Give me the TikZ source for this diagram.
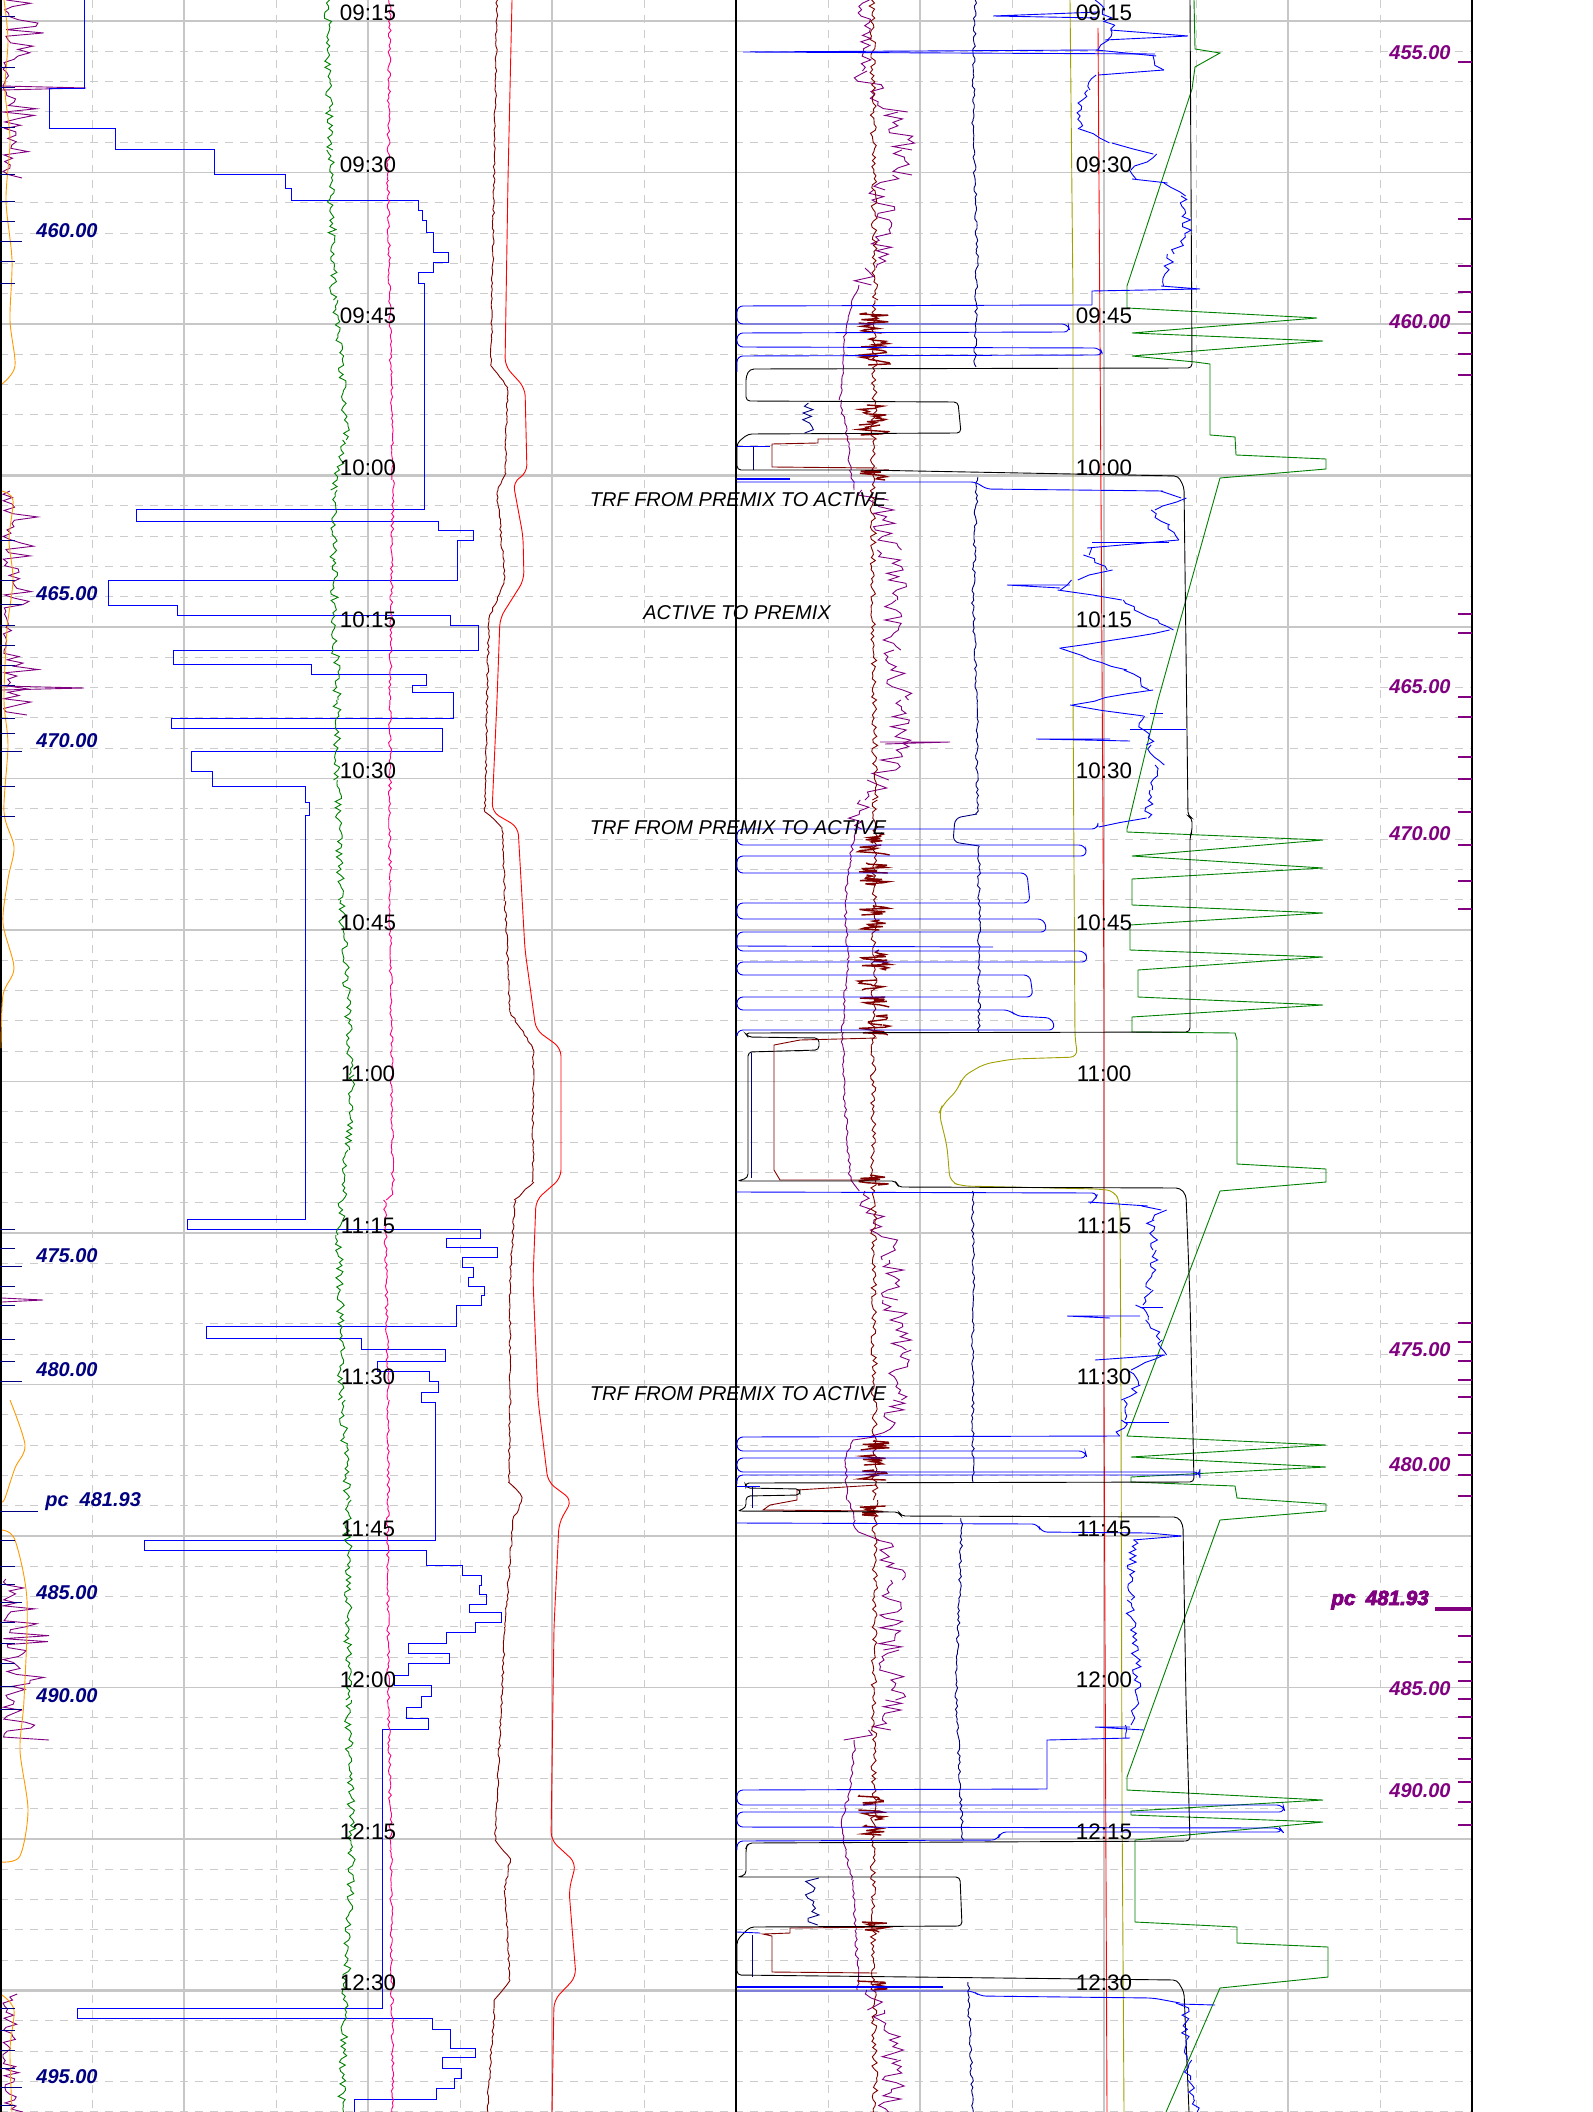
\documentclass[tikz,border=0pt]{standalone}
\usepackage{fontspec}
\setmainfont{Liberation Sans}
\newfontfamily\pcfont[FakeBold=4]{Liberation Sans}
\usepackage{tikz}
\definecolor{logblue}{RGB}{0,0,255}
\definecolor{lognavy}{RGB}{0,0,128}
\definecolor{logpurple}{RGB}{128,0,128}
\definecolor{logmaroon}{RGB}{128,0,0}
\definecolor{logred}{RGB}{255,0,0}
\definecolor{logpink}{RGB}{255,0,128}
\definecolor{loggreen}{RGB}{0,128,0}
\definecolor{logolive}{RGB}{160,160,0}
\definecolor{logorange}{RGB}{255,153,0}
\tikzset{
  gridmaj/.style={draw=black!22, line width=0.7pt},
  gridmin/.style={draw=black!20, line width=0.5pt, dash pattern=on 4pt off 3.5pt},
  border/.style={draw=black, line width=0.8pt},
  curve/.style={line width=0.45pt},
  timelbl/.style={anchor=base, inner sep=0pt, font=\fontsize{11.2}{13}\selectfont},
  depthL/.style={text=lognavy, inner sep=0pt, font=\fontsize{10}{12}\selectfont\bfseries\itshape},
  depthR/.style={text=logpurple, inner sep=0pt, font=\fontsize{10}{12}\selectfont\bfseries\itshape},
  remark/.style={inner sep=0pt, font=\fontsize{10}{12}\selectfont\itshape}
}
\newcommand{\burst}[2]{\draw[logmaroon, line width=0.7pt] plot[variable=\s, domain=-5:5, samples=10] ({874+#2*(rnd-0.5)}, {#1+\s});}
\newcommand{\jitter}[5][]{%
  \foreach \xb/\yb [remember=\xb as \xa (initially #3), remember=\yb as \ya (initially #4)] in {#5} {%
    \pgfmathtruncatemacro\nsm{max(2,abs(\yb-\ya)/3)}%
    \draw[#1] plot[variable=\s, domain=\ya:\yb, samples=\nsm] ({\xa+(\xb-\xa)*(\s-\ya)/(\yb-\ya)+#2*(rnd-0.5)}, \s);%
  }%
}

\begin{document}
\begin{tikzpicture}[x=0.5pt, y=-0.5pt]
  \pgfmathsetseed{7}
  \useasboundingbox (0,0) rectangle (1592,2112);
  \fill[white] (0,0) rectangle (1592,2112);

  \foreach \j in {0,...,69} \draw[gridmin] (0,{21+30.3*\j}) -- (1472,{21+30.3*\j});
  \foreach \i in {1,3,...,15} \draw[gridmin] ({92*\i},0) -- ({92*\i},2112);
  \foreach \i in {2,4,6,10,12,14} \draw[gridmaj] ({92*\i},0) -- ({92*\i},2112);
  \foreach \k in {0,...,13} \draw[gridmaj] (0,{21+151.5*\k}) -- (1472,{21+151.5*\k});
  \foreach \k in {3,8,13} \draw[gridmaj, line width=1.3pt] (0,{21+151.5*\k}) -- (1472,{21+151.5*\k});
  \draw[border] (1,0) -- (1,2112);
  \draw[border] (736,0) -- (736,2112);
  \draw[border] (1472,0) -- (1472,2112);

  % left track
  \draw[logpurple, curve] plot[variable=\s, domain=0:178, samples=55] ({3+45*rnd*rnd}, \s);
  \draw[logpurple, curve] plot[variable=\s, domain=491:715, samples=70] ({3+40*rnd*rnd}, \s);
  \draw[logpurple, curve] plot[variable=\s, domain=1579:1740, samples=55] ({3+55*rnd*rnd}, \s);
  \draw[logpurple, curve] plot[variable=\s, domain=1994:2112, samples=40] ({3+25*rnd*rnd}, \s);
  \draw[logpurple, curve] (2,86) -- (86,88) -- (2,90);
  \draw[logpurple, curve] (2,686) -- (84,688) -- (2,690);
  \draw[logpurple, curve] (2,1298) -- (43,1300) -- (2,1302);

  \draw[logorange, curve] plot[smooth] coordinates {(4,0) (8,40) (5,90) (10,140) (6,200) (12,260) (10,320) (15,366) (2,384)};
  \draw[logorange, curve] plot[smooth] coordinates {(2,491) (13,500) (9,540) (13,580) (7,630) (4,700) (8,745) (4,812) (14,847) (8,879) (3,923) (14,968) (3,995) (1,1048)};
  \draw[logorange, curve] plot[smooth] coordinates {(10,1400) (25,1445) (15,1468) (5,1498) (2,1502)};
  \draw[logorange, curve] plot[smooth] coordinates {(2,1530) (15,1540) (27,1600) (24,1700) (20,1750) (28,1810) (20,1856) (2,1862)};
  \draw[logorange, curve] plot[smooth] coordinates {(2,1995) (14,2010) (10,2050) (12,2112)};

  \foreach \y in {16,67,87,127,174,201,221,261,283,540,580,625,645,665,685,718,733,786,816,1229,1248,1286,1305,1339,1361,1540,1566,1584,1622,1643,1663,1686,2008,2030,2050,2068,2105}
    \draw[lognavy, curve] (0,\y) -- (15,\y);
  \foreach \y in {241,604,751,1266,1381,1602,1709,2087}
    \draw[lognavy, curve] (0,\y) -- (22,\y);
  \draw[lognavy, curve] (0,1511) -- (38,1511);

  \draw[logblue, curve] (84,0) |- (49,88) |- (115,128) |- (214,149) |- (285,174) |- (291,188)
    |- (418,200) |- (422,210) |- (426,220) |- (433,232) |- (448,252) |- (433,262) |- (418,272)
    |- (424,283) |- (136,509) |- (438,521) |- (473,530) |- (457,540) |- (108,580) |- (177,605)
    |- (450,615) |- (478,625) |- (173,650) |- (311,664) |- (426,674) |- (412,685) |- (453,692)
    |- (171,718) |- (442,728) |- (191,751) |- (212,771) |- (305,786) |- (309,802) |- (305,815)
    |- (187,1219) |- (480,1229) |- (446,1238) |- (497,1247) |- (462,1257) |- (473,1267)
    |- (468,1277) |- (484,1286) |- (481,1295) |- (456,1305) |- (206,1326) |- (361,1338)
    |- (445,1349) |- (377,1361) |- (429,1371) |- (438,1381) |- (421,1392) |- (435,1402)
    |- (144,1540) |- (426,1550) |- (462,1565) |- (481,1575) |- (479,1585) |- (486,1594)
    |- (469,1604) |- (501,1612) |- (475,1622) |- (446,1632) |- (408,1643) |- (449,1653)
    |- (408,1663) |- (394,1675) |- (431,1685) |- (421,1696) |- (406,1707) |- (428,1718)
    |- (382,1729) |- (77,2008) |- (432,2018) |- (450,2029) |- (475,2048) |- (442,2057)
    |- (461,2068) |- (454,2078) |- (436,2088) |- (354,2099) -- (354,2112);

  \jitter[loggreen, curve]{8}{328}{0}{330/150, 334/300, 344/390, 346/440, 334/490, 333/560, 337/700,
    337/780, 341/900, 352/1075, 347/1150, 339/1235, 342/1400, 348/1500, 348/1700, 352/1850, 346/1990, 341/2112}
  \jitter[logpink, curve]{3}{390}{0}{388/180, 390/320, 393/480, 390/700, 390/880, 393/1195, 385/1200,
    388/1400, 388/1670, 391/1850, 393/2112}
  \jitter[logmaroon, curve]{2}{497}{0}{494/179, 491/366, 508/388, 505/473, 497/491, 505/580, 489/618,
    487/700, 485/812, 502/827, 505/901, 510/1012, 533/1048, 533/1182, 515/1200, 510/1280, 510/1400,
    509/1482, 523/1498, 513/1520, 505/1627, 495/1840, 510/1859, 505/1890, 510/1981, 495/2000, 487/2112}
  \draw[logred, curve, rounded corners=4pt] (512,0) -- (508,179) -- (505,366) -- (525,388) -- (527,473)
    -- (513,482) -- (523,536) -- (524,580) -- (500,618) -- (497,700) -- (492,812) -- (518,827)
    -- (525,950) -- (536,1030) -- (561,1048) -- (561,1178) -- (536,1200) -- (533,1280) -- (538,1400)
    -- (548,1482) -- (572,1500) -- (559,1523) -- (554,1627) -- (551,1840) -- (576,1863) -- (569,1890)
    -- (576,1977) -- (554,2000) -- (552,2112);

  % right track
  \draw[logred, curve] (1098,28) -- (1101,500) -- (1104,1000) -- (1104,1400) -- (1107,2112);
  \draw[logolive, curve, rounded corners=4pt] (1070,0) -- (1073,300) -- (1073,700) -- (1075,1039)
    -- (1078,1057) -- (1013,1059) -- (984,1064) -- (962,1077) -- (959,1088) -- (942,1106) -- (939,1113)
    -- (947,1146) -- (950,1182) -- (962,1186) -- (1098,1189) -- (1115,1191) -- (1120,1204)
    -- (1121,1400) -- (1122,1800) -- (1124,2112);

  \draw[loggreen, curve] (1194,0) -- (1195,49) -- (1220,53) -- (1195,67) -- (1192,89) -- (1127,286)
    -- (1127,308) -- (1317,318) -- (1132,333) -- (1323,341) -- (1132,356) -- (1195,362) -- (1210,364)
    -- (1210,435) -- (1235,437) -- (1236,455) -- (1326,459) -- (1326,469) -- (1220,478) -- (1158,700)
    -- (1127,829) -- (1127,832) -- (1323,840) -- (1132,856) -- (1323,868) -- (1132,879) -- (1132,905)
    -- (1323,913) -- (1130,925) -- (1130,950) -- (1323,957) -- (1138,970) -- (1138,997) -- (1323,1005)
    -- (1132,1017) -- (1132,1032) -- (1235,1033) -- (1237,1040) -- (1237,1164) -- (1326,1169)
    -- (1326,1182) -- (1220,1191) -- (1127,1436) -- (1326,1445) -- (1131,1457) -- (1326,1467)
    -- (1131,1477) -- (1131,1482) -- (1235,1486) -- (1237,1498) -- (1326,1504) -- (1326,1511)
    -- (1220,1520) -- (1127,1777) -- (1127,1790) -- (1323,1800) -- (1131,1811) -- (1131,1815)
    -- (1323,1822) -- (1135,1840) -- (1135,1922) -- (1237,1927) -- (1237,1943) -- (1328,1947)
    -- (1328,1977) -- (1220,1988) -- (1166,2112);

  \jitter[logpurple, curve]{26}{872}{0}{866/45, 860/71, 895/112, 905/150, 905/175, 880/190, 885/230, 878/268, 860/285}
  \jitter[logpurple, curve]{3}{860}{285}{852/300, 845/330, 843/370, 840/400, 848/440, 850/470, 855/490}
  \jitter[logpurple, curve]{26}{855}{490}{880/500, 890/550, 895/600, 890/650, 900/700, 905/740, 880/780, 865/800, 855/829}
  \draw[logpurple, curve] (880,742) -- (950,742) -- (885,744);
  \jitter[logpurple, curve]{3}{855}{829}{850/860, 845/900, 848/960, 842/1032, 845/1100, 850/1180, 860/1191}
  \jitter[logpurple, curve]{26}{860}{1191}{880/1220, 890/1260, 895/1300, 900/1350, 895/1400, 880/1436}
  \jitter[logpurple, curve]{3}{880}{1436}{853/1440, 845/1460, 848/1500, 855/1520}
  \jitter[logpurple, curve]{26}{855}{1520}{880/1540, 895/1580, 890/1650, 895/1700, 880/1730, 855/1740}
  \jitter[logpurple, curve]{3}{855}{1740}{850/1790, 842/1820, 845/1850, 852/1880, 856/1930, 858/1990}
  \jitter[logpurple, curve]{26}{858}{1990}{880/2010, 895/2060, 890/2112}

  \jitter[logmaroon, curve]{6}{872}{0}{875/300, 873/500, 875/800, 873/1100, 875/1500, 873/1900, 875/2112}
  \draw[logmaroon, curve] (877,439) -- (818,439) -- (818,443) -- (772,444) -- (772,467) -- (877,468);
  \draw[logmaroon, curve] (877,1038) -- (800,1040) -- (774,1045) -- (774,1170) -- (780,1180) -- (877,1180);
  \draw[logmaroon, curve] (877,1485) -- (797,1490) -- (797,1500) -- (770,1505) -- (763,1510) -- (877,1511);
  \draw[logmaroon, curve] (893,1927) -- (790,1928) -- (790,1933) -- (763,1934) -- (772,1936) -- (772,1972) -- (877,1973);
  \foreach \b in {318,328,343,352,360,410,420,430,475,838,850,868,880,910,925,955,965,985,1002,1020,1030,1180,1445,1460,1475,1511,1800,1815,1830,1927,1985}
    {\burst{\b}{32}}

  \jitter[lognavy, curve]{3}{975}{0}{973/120, 977/250, 975/367}
  \jitter[lognavy, curve]{14}{808}{403}{808/433}
  \draw[lognavy, curve] (753,447) -- (753,470);
  \jitter[lognavy, curve]{3}{977}{477}{973/600, 977/700, 977/814}
  \draw[lognavy, curve, rounded corners=3pt] (977,814) -- (955,818) -- (953,842) -- (979,846);
  \jitter[lognavy, curve]{3}{979}{846}{979/1032}
  \draw[lognavy, curve] (751,1053) -- (751,1178);
  \jitter[lognavy, curve]{3}{973}{1191}{973/1482}
  \draw[lognavy, curve] (752,1486) -- (752,1508);
  \jitter[lognavy, curve]{3}{962}{1518}{956/1700, 963/1840}
  \jitter[lognavy, curve]{14}{812}{1878}{812/1925}
  \draw[lognavy, curve] (752,1935) -- (752,1977);
  \jitter[lognavy, curve]{3}{968}{1982}{973/2112}

  \draw[black, curve, rounded corners=2pt] (1190,0) -- (1192,368) -- (750,369) -- (746,376) -- (746,401)
    -- (958,402) -- (961,433) -- (748,434) -- (737,443) -- (737,470) -- (863,470) -- (1178,476)
    -- (1184,487) -- (1188,816) -- (1192,818) -- (1192,832) -- (1190,836) -- (1190,1032) -- (745,1033)
    -- (748,1037) -- (819,1038) -- (819,1050) -- (748,1052) -- (748,1178) -- (737,1181) -- (896,1181)
    -- (898,1187) -- (1180,1188) -- (1186,1195) -- (1190,1300) -- (1194,1482) -- (745,1483) -- (746,1488)
    -- (800,1489) -- (800,1495) -- (746,1496) -- (746,1508) -- (737,1511) -- (899,1512) -- (901,1516)
    -- (1178,1517) -- (1183,1525) -- (1186,1700) -- (1190,1841) -- (748,1843) -- (746,1848) -- (746,1875)
    -- (737,1877) -- (960,1877) -- (962,1926) -- (750,1927) -- (737,1940) -- (737,1975) -- (1177,1980)
    -- (1184,1992) -- (1189,2112);

  \jitter[logblue, curve]{10}{1100}{0}{1110/25, 1105/40, 1098/50, 1155/56, 1160/70, 1100/75, 1085/90,
    1078/129, 1110/143, 1155/154, 1130/170, 1132/179, 1166/183, 1183/196, 1188/237, 1172/254, 1168/270, 1161/286}
  \draw[logblue, curve] (1100,12) -- (993,16) -- (1098,18);
  \draw[logblue, curve] (1110,30) -- (1188,36) -- (1105,40);
  \draw[logblue, curve] (1098,50) -- (743,52) -- (1155,54);
  \draw[logblue, curve] (1161,286) -- (1200,289) -- (1092,291) -- (1092,305);
  \draw[logblue, curve, rounded corners=3pt] (1092,305) -- (737,306) -- (737,324) -- (1068,324) -- (1070,332)
    -- (737,333) -- (737,347) -- (1100,348) -- (1103,355) -- (737,356) -- (737,372);
  \draw[logblue, curve] (737,446) -- (770,446);
  \draw[logblue, line width=1pt] (737,479) -- (790,479);
  \draw[logblue, curve, rounded corners=3pt] (737,482) -- (977,482) -- (985,489) -- (1163,491);
  \jitter[logblue, curve]{10}{1163}{491}{1183/498, 1150/510, 1170/525, 1180/540, 1092/548, 1085/555,
    1110/570, 1075/580, 1060/590, 1120/600, 1172/630, 1060/648, 1127/670, 1150/690, 1070/705,
    1140/716, 1150/745, 1160/765, 1150/790, 1148/818, 1098/827}
  \draw[logblue, curve] (1092,542) -- (1169,542);
  \draw[logblue, curve] (1070,585) -- (1007,585) -- (1060,588);
  \draw[logblue, curve] (1150,713) -- (1163,713);
  \draw[logblue, curve] (1130,729) -- (1186,729);
  \draw[logblue, curve] (1110,739) -- (1036,739) -- (1130,741);
  \draw[logblue, curve, rounded corners=3pt] (1098,827) -- (1098,829) -- (737,829) -- (737,845) -- (1085,845)
    -- (1087,856) -- (737,856) -- (737,873) -- (1027,873) -- (1030,903) -- (737,903) -- (737,919)
    -- (1044,919) -- (1047,932) -- (737,932) -- (737,951) -- (1085,951) -- (1088,962) -- (737,962)
    -- (737,975) -- (1030,975) -- (1033,997) -- (737,997) -- (737,1010) -- (1010,1010) -- (1016,1016)
    -- (1052,1018) -- (1055,1030) -- (737,1030) -- (737,1036);
  \draw[logblue, curve] (737,946) -- (993,947);
  \draw[logblue, curve, rounded corners=3pt] (737,1192) -- (1098,1193) -- (1095,1200) -- (1092,1202);
  \jitter[logblue, curve]{10}{1092}{1202}{1144/1206, 1166/1210, 1150/1220, 1155/1250, 1150/1290, 1140/1305,
    1150/1320, 1160/1340, 1165/1355, 1130/1370, 1140/1385, 1125/1400, 1124/1420, 1120/1436}
  \draw[logblue, curve] (1140,1307) -- (1163,1307);
  \draw[logblue, curve] (1140,1316) -- (1067,1316) -- (1110,1318);
  \draw[logblue, curve] (1165,1355) -- (1095,1360);
  \draw[logblue, curve] (1124,1422) -- (1169,1422);
  \draw[logblue, curve, rounded corners=3pt] (1120,1436) -- (737,1437) -- (737,1451) -- (1085,1451)
    -- (1087,1458) -- (737,1458) -- (737,1472) -- (1200,1472) -- (1200,1475) -- (737,1475) -- (737,1484);
  \draw[logblue, curve] (737,1486) -- (760,1486);
  \draw[logblue, curve, rounded corners=3pt] (737,1523) -- (1038,1524) -- (1041,1532) -- (1149,1533) -- (1181,1536);
  \jitter[logblue, curve]{10}{1181}{1536}{1133/1540, 1130/1600, 1135/1650, 1138/1700, 1130/1725, 1130/1738}
  \draw[logblue, curve] (1130,1727) -- (1095,1727) -- (1144,1730);
  \draw[logblue, curve] (1130,1738) -- (1047,1740) -- (1047,1789);
  \draw[logblue, curve, rounded corners=3pt] (1047,1789) -- (737,1790) -- (737,1805) -- (1283,1805)
    -- (1285,1812) -- (737,1812) -- (737,1827) -- (1280,1828) -- (1283,1832) -- (1000,1832)
    -- (998,1840) -- (737,1841) -- (737,1850);
  \draw[logblue, curve] (737,1932) -- (760,1933);
  \draw[logblue, line width=1pt] (737,1987) -- (943,1987);
  \draw[logblue, curve, rounded corners=3pt] (737,1991) -- (973,1991) -- (980,1996) -- (1153,1998) -- (1180,2003);
  \jitter[logblue, curve]{10}{1180}{2003}{1185/2008, 1187/2040, 1190/2060, 1186/2080, 1195/2100, 1198/2112}
  \draw[logblue, curve] (1180,2004) -- (1215,2005);

  \foreach \y in {62,219,266,292,312,333,354,375,614,633,697,717,757,779,812,845,881,909,1323,1342,1361,1380,1397,1433,1455,1475,1496,1636,1662,1681,1699,1717,1738,1759,1782,1802,1825}
    \draw[logpurple, line width=1pt] (1458,\y) -- (1472,\y);
  \draw[logpurple, line width=2pt] (1435,1609) -- (1472,1609);

  % labels
  \foreach \t [count=\k from 0] in {09:15,09:30,09:45,10:00,10:15,10:30,10:45,11:00,11:15,11:30,11:45,12:00,12:15,12:30} {
    \node[timelbl] (tl\k) at (368,{21+151.5*\k}) {\t};
    \node[timelbl] (tr\k) at (1104,{21+151.5*\k}) {\t};
  }
  \node[remark] (trf1) at (738,500) {TRF FROM PREMIX TO ACTIVE};
  \node[remark] (atp) at (737,613) {ACTIVE TO PREMIX};
  \node[remark] (trf2) at (738,828) {TRF FROM PREMIX TO ACTIVE};
  \node[remark] (trf3) at (738,1394) {TRF FROM PREMIX TO ACTIVE};

  \node[depthL] (dl460) at (67,231) {460.00};
  \node[depthL] (dl465) at (67,594) {465.00};
  \node[depthL] (dl470) at (67,741) {470.00};
  \node[depthL] (dl475) at (67,1256) {475.00};
  \node[depthL] (dl480) at (67,1370) {480.00};
  \node[depthL, anchor=west] (dlpc) at (45,1502) {pc\hspace{0.55em}481.93};
  \node[depthL] (dl485) at (67,1593) {485.00};
  \node[depthL] (dl490) at (67,1696) {490.00};
  \node[depthL] (dl495) at (67,2077) {495.00};

  \node[depthR] (dr455) at (1420,53) {455.00};
  \node[depthR] (dr460) at (1420,322) {460.00};
  \node[depthR] (dr465) at (1420,687) {465.00};
  \node[depthR] (dr470) at (1420,834) {470.00};
  \node[depthR] (dr475) at (1420,1350) {475.00};
  \node[depthR] (dr480) at (1420,1465) {480.00};
  \node[depthR, anchor=west, font=\fontsize{10.3}{12}\selectfont\pcfont\bfseries\itshape] (drpc) at (1331,1600) {pc\hspace{0.5em}481.93};
  \node[depthR] (dr485) at (1420,1689) {485.00};
  \node[depthR] (dr490) at (1420,1791) {490.00};
\end{tikzpicture}
\end{document}
